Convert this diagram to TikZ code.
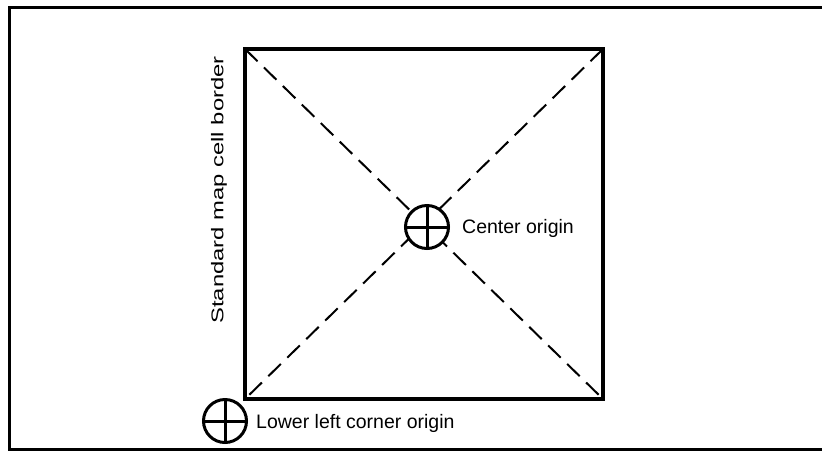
\documentclass[tikz,border=0pt]{standalone}
\usepackage{fontspec}
\setmainfont{Liberation Sans}
\begin{document}
\begin{tikzpicture}[x=1pt,y=-1pt,
  frame/.style={line width=3pt},
  cellborder/.style={line width=4.4pt,line join=miter},
  diag/.style={line width=2pt,dash pattern=on 17.5pt off 9pt},
  origin/.style={circle,draw,line width=3pt,minimum size=43pt,inner sep=0pt},
  cross/.style={line width=3pt},
  lbl/.style={font=\fontsize{19.5}{23}\selectfont,inner sep=0pt,anchor=west}]
\useasboundingbox (0,0) rectangle (822,451);
\draw[frame] (830,7) -- (9,7) -- (9,449) -- (830,449);
\coordinate (tl) at (245,49);
\coordinate (tr) at (603,49);
\coordinate (br) at (603,399);
\coordinate (bl) at (245,399);
\draw[diag] (tl) -- (br);
\draw[diag] (tr) -- (bl);
\draw[cellborder] (tl) -- (tr) -- (br) -- (bl) -- cycle;
\node[origin,fill=white] (co) at (427,227) {};
\draw[cross] (co.north) -- (co.south) (co.west) -- (co.east);
\node[origin,fill=white] (lo) at (225,421) {};
\draw[cross] (lo.north) -- (lo.south) (lo.west) -- (lo.east);
\node[lbl] (cl) at (462,228) {Center origin};
\node[lbl] (ll) at (256,423) {Lower left corner origin};
\node[rotate=90,inner sep=0pt,font=\fontsize{17}{20}\selectfont] (sl) at (219,190) {\scalebox{1.4}[1]{Standard map cell border}};
\end{tikzpicture}
\end{document}
